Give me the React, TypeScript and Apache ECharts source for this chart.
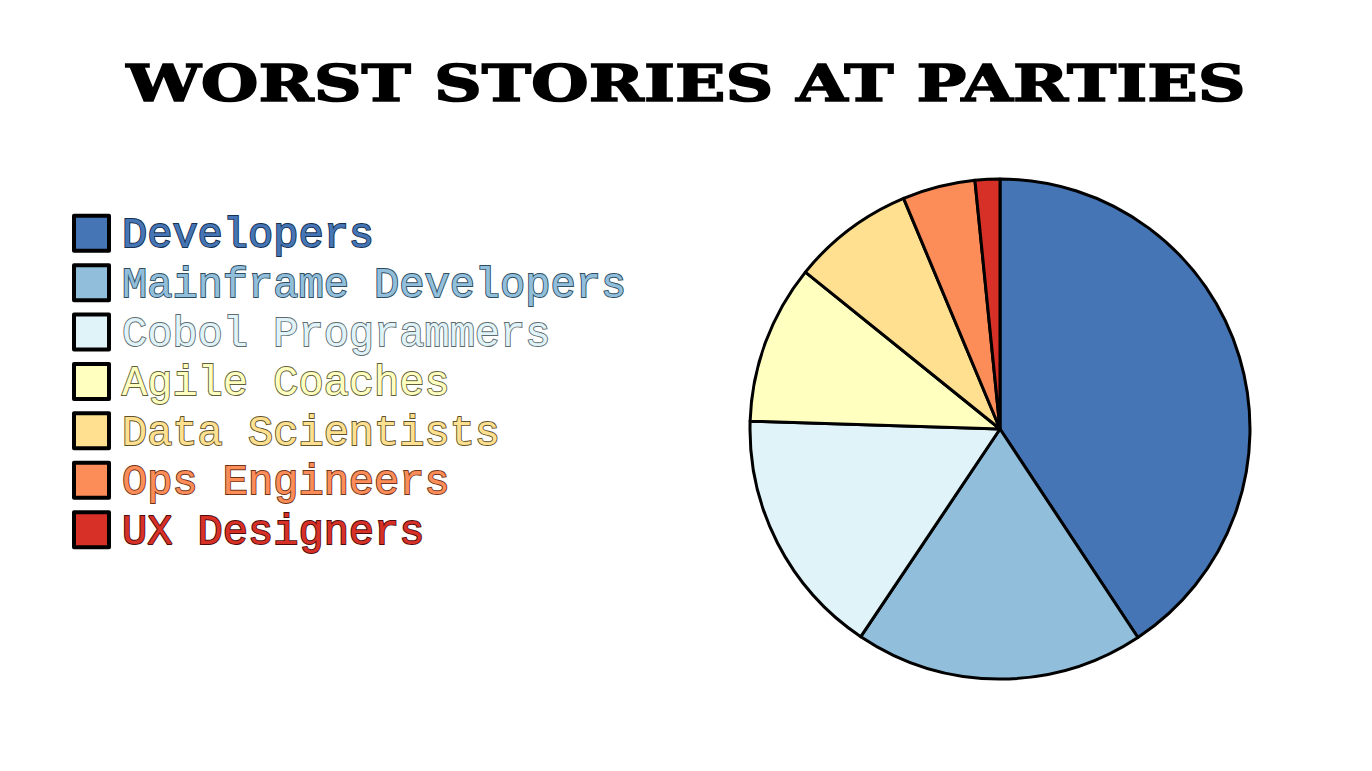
import React, { useEffect, useRef } from "react";
import * as echarts from "echarts";

const TITLE = "WORST STORIES AT PARTIES";
const categories = [
  "Developers",
  "Mainframe Developers",
  "Cobol Programmers",
  "Agile Coaches",
  "Data Scientists",
  "Ops Engineers",
  "UX Designers",
];
const values = [40.7, 18.7, 16.1, 10.3, 7.9, 4.7, 1.6];
const colors = ["#4575b4", "#91bfdb", "#e0f3f8", "#ffffbf", "#fee090", "#fc8d59", "#d73027"];
const textStrokes = ["#16304f", "#2f4d60", "#5d6b6e", "#5f5f3a", "#5f5128", "#6e3318", "#4d0c0c"];

export default function App() {
  const ref = useRef<HTMLDivElement>(null);
  useEffect(() => {
    if (!ref.current) return;
    const chart = echarts.init(ref.current, null, { renderer: "svg" });
    const rich: Record<string, any> = {};
    categories.forEach((_, i) => {
      rich["c" + i] = {
        fontFamily: "Courier New, Liberation Mono, monospace",
        fontSize: 42,
        padding: [6, 0, 0, 8],
        color: colors[i],
        textBorderColor: textStrokes[i],
        textBorderWidth: 1.8,
      };
    });
    chart.setOption({
      animation: false,
      backgroundColor: "#ffffff",
      title: {
        show: false,
        text: TITLE,
      },
      graphic: [
        {
          type: "text",
          x: 678,
          y: 49,
          scaleX: 1.3,
          style: {
            text: TITLE,
            fontFamily: "DejaVu Serif",
            fontWeight: 900,
            fontSize: 51,
            fill: "#000",
            stroke: "#000",
            lineWidth: 1.5,
            textAlign: "center",
            textVerticalAlign: "top",
          },
        },
      ],
      legend: {
        orient: "vertical",
        left: 64,
        top: 205.75,
        padding: 0,
        itemWidth: 35,
        itemHeight: 35,
        itemGap: 5,
        icon: "rect",
        selectedMode: false,
        itemStyle: { borderColor: "#000", borderWidth: 4 },
        formatter: (name: string) => `{c${categories.indexOf(name)}|${name}}`,
        textStyle: {
          fontFamily: "Courier New, Liberation Mono, monospace",
          fontSize: 42,
          rich,
        },
        data: categories,
      },
      color: colors,
      series: [
        {
          type: "pie",
          center: [992, 421],
          radius: 250,
          startAngle: 90,
          clockwise: true,
          label: { show: false },
          labelLine: { show: false },
          emphasis: { disabled: true },
          itemStyle: { borderColor: "#000", borderWidth: 3 },
          data: categories.map((c, i) => ({ name: c, value: values[i] })),
        },
      ],
    });
    return () => chart.dispose();
  }, []);
  return <div ref={ref} style={{ width: 1356, height: 755 }} />;
}
